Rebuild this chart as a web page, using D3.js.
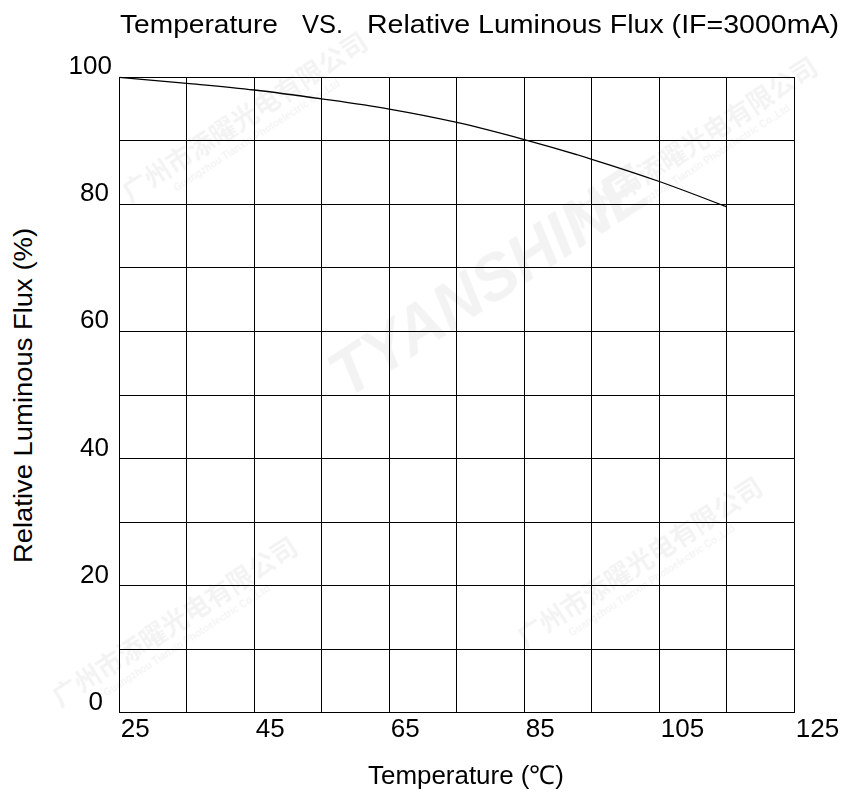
<!DOCTYPE html>
<html><head><meta charset="utf-8">
<script src="https://cdn.jsdelivr.net/npm/d3@7/dist/d3.min.js"></script>
<style>body{margin:0;background:#fff}svg{display:block}text{font-family:"Liberation Sans",Arial,sans-serif}</style>
</head><body>
<script>
const temps = [25, 35, 45, 55, 65, 75, 85, 95, 105, 115];
const flux = [100, 99.05, 98.0, 96.6, 95.0, 92.9, 90.2, 87.1, 83.6, 79.6];
const xTickLabels = [25, 45, 65, 85, 105, 125];
const yTickLabels = [0, 20, 40, 60, 80, 100];
const gridX = d3.range(25, 126, 10);
const gridY = d3.range(0, 101, 10);

const W = 842, H = 802;
const svg = d3.select("body").append("svg").attr("width", W).attr("height", H);
const x = d3.scaleLinear().domain([25, 125]).range([119.3, 794.3]);
const y = d3.scaleLinear().domain([0, 100]).range([712.7, 77.3]);

// faint watermarks (kept inside the canvas)
const wm = svg.append("g").attr("fill", "#000").attr("opacity", 0.05);
function brand(cx, cy, size){
  wm.append("text").attr("transform", `translate(${cx},${cy}) rotate(-33)`)
    .attr("text-anchor","middle").attr("font-size", size).attr("font-weight","bold")
    .style("font-style","italic").text("TYANSHINE");
}
function cn(cx, cy){
  const g = wm.append("g").attr("transform", `translate(${cx},${cy}) rotate(-33)`);
  g.append("text").attr("text-anchor","middle").attr("font-size",26).attr("font-weight","bold")
    .style("font-family","'Noto Sans CJK SC'").text("广州市添曜光电有限公司");
  g.append("text").attr("text-anchor","middle").attr("y",16).attr("font-size",10).attr("font-weight","bold")
    .text("Guangzhou Tianxin Photoelectric Co.,Ltd");
}
brand(500, 300, 64);
cn(250, 125); cn(700, 150); cn(645, 570); cn(180, 630);

// grid
const grid = svg.append("g").attr("stroke", "#000").attr("stroke-width", 1).attr("shape-rendering","crispEdges");
grid.selectAll("line.v").data(gridX).join("line").attr("class","v")
  .attr("x1", d => x(d)).attr("x2", d => x(d)).attr("y1", y(0)).attr("y2", y(100));
grid.selectAll("line.h").data(gridY).join("line").attr("class","h")
  .attr("y1", d => y(d)).attr("y2", d => y(d)).attr("x1", x(25)).attr("x2", x(125));

// curve
const line = d3.line().x((d,i) => x(temps[i])).y(d => y(d)).curve(d3.curveMonotoneX);
svg.append("path").datum(flux).attr("d", line).attr("fill","none").attr("stroke","#000").attr("stroke-width",1.3);

// tick labels
svg.append("g").selectAll("text").data(xTickLabels).join("text")
  .attr("x", d => x(d) + 1.5).attr("y", 737).attr("font-size", 26).attr("fill","#000").text(d => d);
svg.append("g").selectAll("text").data(yTickLabels).join("text")
  .attr("x", d => d === 100 ? 112 : (d === 0 ? 103 : 109)).attr("y", d => y(d) - 3)
  .attr("text-anchor","end").attr("font-size", 26).attr("fill","#000").text(d => d);

// title
const t = svg.append("g").attr("font-size", 26).attr("fill", "#000");
t.append("text").attr("x",120).attr("y",33).attr("textLength",158).attr("lengthAdjust","spacingAndGlyphs").text("Temperature");
t.append("text").attr("x",302).attr("y",33).attr("textLength",41).attr("lengthAdjust","spacingAndGlyphs").text("VS.");
t.append("text").attr("x",367).attr("y",33).attr("textLength",472).attr("lengthAdjust","spacingAndGlyphs").text("Relative Luminous Flux (IF=3000mA)");

// axis titles
svg.append("text").attr("x",368).attr("y",784).attr("font-size",26).attr("fill","#000")
  .attr("textLength",196).attr("lengthAdjust","spacingAndGlyphs").text("Temperature (℃)");
svg.append("text").attr("transform","translate(32,563) rotate(-90)").attr("font-size",26).attr("fill","#000")
  .attr("textLength",335).attr("lengthAdjust","spacingAndGlyphs").text("Relative Luminous Flux (%)");
</script>
</body></html>
